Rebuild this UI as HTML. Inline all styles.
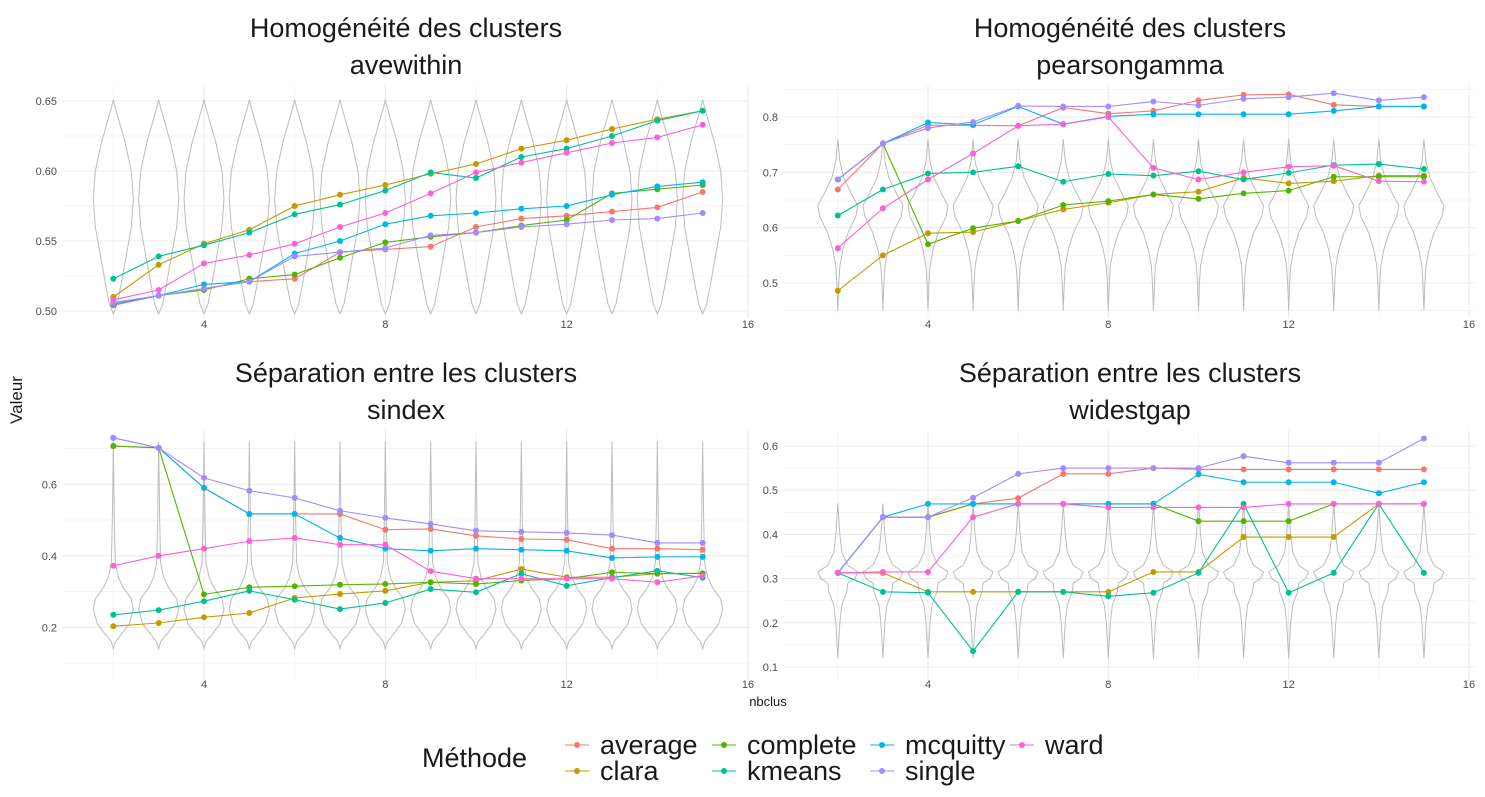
<!DOCTYPE html>
<html><head><meta charset="utf-8">
<style>
body{margin:0;background:#fff;font-family:"Liberation Sans",sans-serif;}
svg{display:block}
</style></head>
<body>
<svg id="chart" width="1485" height="797" xmlns="http://www.w3.org/2000/svg"></svg>
<script>
const ks = [2,3,4,5,6,7,8,9,10,11,12,13,14,15];
const methods = ["average","clara","complete","kmeans","mcquitty","single","ward"];
const colors = {average:"#F8766D",clara:"#C49A00",complete:"#53B400",kmeans:"#00C094",mcquitty:"#00B6EB",single:"#A58AFF",ward:"#FB61D7"};

const avewithin = {
 average:[0.504,0.511,0.516,0.521,0.523,0.542,0.544,0.546,0.560,0.566,0.568,0.571,0.574,0.585],
 clara:[0.510,0.533,0.548,0.558,0.575,0.583,0.590,0.598,0.605,0.616,0.622,0.630,0.637,0.643],
 complete:[0.505,0.511,0.515,0.523,0.526,0.538,0.549,0.553,0.556,0.561,0.565,0.584,0.587,0.590],
 kmeans:[0.523,0.539,0.547,0.556,0.569,0.576,0.586,0.599,0.595,0.610,0.616,0.625,0.636,0.643],
 mcquitty:[0.505,0.511,0.519,0.521,0.541,0.550,0.562,0.568,0.570,0.573,0.575,0.583,0.589,0.592],
 single:[0.506,0.511,0.516,0.521,0.539,0.542,0.545,0.554,0.556,0.560,0.562,0.565,0.566,0.570],
 ward:[0.508,0.515,0.534,0.540,0.548,0.560,0.570,0.584,0.599,0.606,0.613,0.620,0.624,0.633]
};
const pearsongamma = {
 average:[0.669,0.752,0.785,0.785,0.784,0.817,0.806,0.811,0.830,0.840,0.841,0.822,0.819,0.819],
 clara:[0.486,0.550,0.590,0.592,0.612,0.633,0.645,0.660,0.665,0.690,0.680,0.684,0.694,0.694],
 complete:[0.687,0.752,0.570,0.599,0.612,0.641,0.648,0.660,0.652,0.662,0.667,0.692,0.692,0.692],
 kmeans:[0.622,0.669,0.698,0.700,0.711,0.683,0.697,0.694,0.702,0.687,0.699,0.713,0.715,0.706],
 mcquitty:[0.687,0.752,0.790,0.786,0.819,0.787,0.801,0.805,0.805,0.805,0.805,0.811,0.819,0.819],
 single:[0.687,0.752,0.780,0.791,0.820,0.819,0.819,0.828,0.821,0.833,0.836,0.843,0.830,0.836],
 ward:[0.563,0.635,0.687,0.734,0.784,0.787,0.800,0.708,0.687,0.700,0.710,0.712,0.684,0.683]
};
const sindex = {
 average:[0.707,0.702,0.590,0.517,0.517,0.517,0.473,0.475,0.456,0.447,0.445,0.420,0.420,0.417],
 clara:[0.203,0.212,0.228,0.240,0.282,0.293,0.302,0.326,0.330,0.363,0.340,0.340,0.350,0.351],
 complete:[0.707,0.702,0.292,0.312,0.315,0.319,0.321,0.326,0.321,0.331,0.336,0.354,0.350,0.351],
 kmeans:[0.235,0.248,0.273,0.302,0.277,0.251,0.268,0.307,0.298,0.350,0.316,0.339,0.358,0.339],
 mcquitty:[0.730,0.702,0.590,0.517,0.517,0.450,0.420,0.414,0.420,0.417,0.414,0.394,0.397,0.397],
 single:[0.730,0.702,0.618,0.582,0.562,0.526,0.506,0.489,0.470,0.467,0.464,0.458,0.436,0.436],
 ward:[0.372,0.400,0.420,0.441,0.450,0.431,0.431,0.357,0.336,0.336,0.336,0.336,0.326,0.344]
};
const widestgap = {
 average:[0.313,0.439,0.439,0.469,0.482,0.537,0.537,0.550,0.547,0.547,0.547,0.547,0.547,0.547],
 clara:[0.313,0.313,0.270,0.270,0.270,0.270,0.270,0.315,0.315,0.394,0.394,0.394,0.469,0.469],
 complete:[0.313,0.439,0.439,0.469,0.469,0.469,0.469,0.469,0.430,0.430,0.430,0.469,0.469,0.469],
 kmeans:[0.313,0.270,0.268,0.136,0.270,0.270,0.260,0.268,0.313,0.469,0.268,0.313,0.469,0.313],
 mcquitty:[0.313,0.439,0.469,0.469,0.469,0.469,0.469,0.469,0.536,0.518,0.518,0.518,0.493,0.518],
 single:[0.313,0.439,0.439,0.483,0.537,0.550,0.550,0.550,0.550,0.577,0.562,0.562,0.562,0.617],
 ward:[0.313,0.315,0.315,0.439,0.469,0.469,0.461,0.461,0.461,0.461,0.469,0.469,0.469,0.469]
};
const xTicks = [4,8,12,16];
const ticksTL = [0.50,0.55,0.60,0.65];
const ticksTR = [0.5,0.6,0.7,0.8];
const ticksBL = [0.2,0.4,0.6];
const ticksBR = [0.1,0.2,0.3,0.4,0.5,0.6];
const violinTL = [[0.498,0],[0.505,4],[0.52,8],[0.54,13],[0.56,18],[0.58,20],[0.60,18],[0.62,12],[0.635,6],[0.645,2],[0.651,0]];
const violinTR = [[0.45,0],[0.50,1],[0.53,2],[0.56,5],[0.59,10],[0.62,18],[0.64,20],[0.66,14],[0.69,6],[0.72,2],[0.76,0]];
const violinBL = [[0.14,0],[0.16,2],[0.18,8],[0.21,16],[0.25,20],[0.28,18],[0.31,10],[0.34,5],[0.38,2],[0.50,1],[0.72,0]];
const violinBR = [[0.12,0],[0.2,2],[0.24,4],[0.27,9],[0.29,10],[0.30,17],[0.315,20],[0.33,10],[0.36,4],[0.40,2],[0.47,0]];

const panels = [
 {name:"avewithin",t1:"Homogénéité des clusters",data:avewithin,ticks:ticksTL,violin:violinTL,grid:[0.50,0.525,0.55,0.575,0.60,0.625,0.65],fmt:2,
  x0:62,x1:750,y0:85,y1:318,kx:[4,204,16,748],vy:[0.65,101,0.50,311],tx:406,ty:28,xl:324},
 {name:"pearsongamma",t1:"Homogénéité des clusters",data:pearsongamma,ticks:ticksTR,violin:violinTR,grid:[0.45,0.5,0.55,0.6,0.65,0.7,0.75,0.8,0.85],fmt:1,
  x0:783,x1:1475,y0:85,y1:318,kx:[4,928,16,1469],vy:[0.8,117,0.5,283],tx:1130,ty:28,xl:324},
 {name:"sindex",t1:"Séparation entre les clusters",data:sindex,ticks:ticksBL,violin:violinBL,grid:[0.1,0.2,0.3,0.4,0.5,0.6,0.7],fmt:1,
  x0:62,x1:750,y0:430,y1:680,kx:[4,204,16,748],vy:[0.6,484.3,0.2,627.3],tx:406,ty:373,xl:684},
 {name:"widestgap",t1:"Séparation entre les clusters",data:widestgap,ticks:ticksBR,violin:violinBR,grid:[0.1,0.15,0.2,0.25,0.3,0.35,0.4,0.45,0.5,0.55,0.6],fmt:1,
  x0:783,x1:1475,y0:430,y1:680,kx:[4,928,16,1469],vy:[0.6,446,0.1,667],tx:1130,ty:373,xl:684}
];
const NS="http://www.w3.org/2000/svg";
const svg=document.getElementById("chart");
function mk(tag,attrs,parent){const e=document.createElementNS(NS,tag);for(const k in attrs)e.setAttribute(k,attrs[k]);(parent||svg).appendChild(e);return e;}

panels.forEach(p=>{
 const sx=k=>p.kx[1]+(k-p.kx[0])*(p.kx[3]-p.kx[1])/(p.kx[2]-p.kx[0]);
 const sy=v=>p.vy[1]+(v-p.vy[0])*(p.vy[3]-p.vy[1])/(p.vy[2]-p.vy[0]);
 const g=mk("g",{});
 
 
 p.grid.forEach((v,i)=>{const major=p.ticks.some(t=>Math.abs(t-v)<1e-9);
  const l=mk("line",{x1:p.x0,x2:p.x1,y1:sy(v),y2:sy(v),stroke:major?"#ebebeb":"#f3f3f3","stroke-width":major?1.1:0.8},g);
  });
 [2,4,6,8,10,12,14,16].forEach(k=>{const major=xTicks.includes(k);
  const l=mk("line",{x1:sx(k),x2:sx(k),y1:p.y0,y2:p.y1,stroke:major?"#ebebeb":"#f3f3f3","stroke-width":major?1.1:0.8},g);
  });
 p.ticks.forEach(v=>{const t=mk("text",{x:57,y:sy(v)+4,"text-anchor":"end","font-size":11,fill:"#4d4d4d"},g);
  if(p.x0>700)t.setAttribute("x",p.x0-5);
  t.textContent=v.toFixed(p.fmt);
  });
 xTicks.forEach(k=>{const t=mk("text",{x:sx(k),y:p.xl+4,"text-anchor":"middle","font-size":11,fill:"#4d4d4d"},g);
  t.textContent=k;});
 [p.t1,p.name].forEach((s,i)=>{const t=mk("text",{x:p.tx,y:p.ty+i*37+9,"text-anchor":"middle","font-size":27,fill:"#1a1a1a"},g);
  t.textContent=s;});
 ks.forEach(k=>{const cx=sx(k);
  const right=p.violin.map(([v,w])=>(cx+w)+","+sy(v));
  const left=p.violin.slice().reverse().map(([v,w])=>(cx-w)+","+sy(v));
  const pg=mk("polygon",{points:right.concat(left).join(" "),fill:"none",stroke:"#bdbdbd","stroke-width":1},g);
  });
 methods.forEach(m=>{const vals=p.data[m];
  const pl=mk("polyline",{points:vals.map((v,i)=>sx(ks[i])+","+sy(v)).join(" "),fill:"none",stroke:colors[m],"stroke-width":1.1},g);
  
  vals.forEach((v,i)=>{const c=mk("circle",{cx:sx(ks[i]),cy:sy(v),r:3,fill:colors[m]},g);
   });
 });
});
let t=mk("text",{x:22,y:400,"text-anchor":"middle","font-size":17,fill:"#1a1a1a",transform:"rotate(-90 22 400)"});
t.textContent="Valeur";
t=mk("text",{x:768,y:706,"text-anchor":"middle","font-size":13,fill:"#1a1a1a"});
t.textContent="nbclus";
const lg=mk("g",{});

t=mk("text",{x:422,y:767,"font-size":27,fill:"#1a1a1a"},lg);
t.textContent="Méthode";
const legPos=[[565,745],[565,771],[712,745],[712,771],[870,745],[870,771],[1010,745]];
methods.forEach((m,i)=>{const [x,y]=legPos[i];
 const e=mk("g",{},lg);
 
 mk("line",{x1:x,x2:x+24,y1:y,y2:y,stroke:colors[m],"stroke-width":1.1},e);
 mk("circle",{cx:x+12,cy:y,r:3,fill:colors[m]},e);
 const tt=mk("text",{x:x+35,y:y+9,"font-size":27,fill:"#1a1a1a"},e);tt.textContent=m;
});
</script>
</body></html>
